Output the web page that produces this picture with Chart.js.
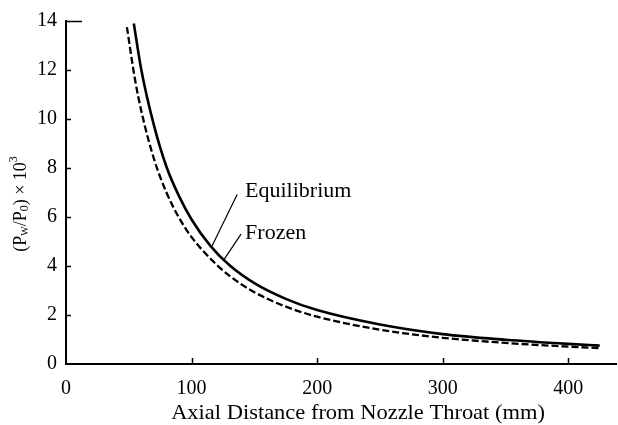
<!DOCTYPE html>
<html>
<head>
<meta charset="utf-8">
<script src="https://cdn.jsdelivr.net/npm/chart.js@4"></script>
<style>
  html, body { margin: 0; padding: 0; background: #fff; }
  #wrap { width: 618px; height: 425px; }
</style>
</head>
<body>
<div id="wrap"><canvas id="pressureChart" width="618" height="425"></canvas></div>
<script>
// values
const eqX = [54, 60, 70, 80, 90, 100, 115, 130, 150, 175, 200, 250, 300, 350, 400, 425];
const eqY = [13.9, 12.0, 9.75, 8.05, 6.85, 5.9, 4.82, 4.04, 3.3, 2.66, 2.2, 1.61, 1.22, 0.99, 0.82, 0.75];
const frX = [48.5, 55, 60, 70, 80, 90, 100, 120, 140, 160, 180, 200, 250, 300, 350, 400, 425];
const frY = [13.75, 11.6, 10.32, 8.38, 7.0, 5.97, 5.18, 4.05, 3.24, 2.67, 2.25, 1.93, 1.4, 1.07, 0.86, 0.71, 0.65];
const xTicks = [0, 100, 200, 300, 400];
const yTicks = [0, 2, 4, 6, 8, 10, 12, 14];
const xTitle = 'Axial Distance from Nozzle Throat (mm)';
const labelEq = 'Equilibrium';
const labelFr = 'Frozen';

const serif = '"Liberation Serif", "DejaVu Serif", serif';

const toPts = (xs, ys) => xs.map((x, i) => ({ x: x, y: ys[i] }));

// stretched text, the print font is wider than Times
function wideText(c, txt, x, y, size, align, sx) {
  c.save();
  c.font = size + 'px ' + serif;
  c.textAlign = align;
  c.textBaseline = 'middle';
  c.translate(x, y);
  c.scale(sx, 1);
  c.fillText(txt, 0, 0);
  c.restore();
}

// inward tick marks, titles and the two curve labels
const decor = {
  id: 'decor',
  afterDraw(chart) {
    const c = chart.ctx;
    const xs = chart.scales.x, ys = chart.scales.y;
    const left = xs.left, bottom = ys.bottom;
    c.save();
    c.strokeStyle = '#000';
    c.fillStyle = '#000';
    c.lineWidth = 1.5;
    c.beginPath();
    yTicks.forEach(v => {
      if (v === 0) return;
      const py = Math.round(ys.getPixelForValue(v)) + 0.5;
      const len = v === 14 ? 16 : 5;
      c.moveTo(left, py); c.lineTo(left + len, py);
    });
    xTicks.forEach(v => {
      if (v === 0) return;
      const px = Math.round(xs.getPixelForValue(v)) + 0.5;
      c.moveTo(px, bottom); c.lineTo(px, bottom - 6);
    });
    c.stroke();

    // x title
    wideText(c, xTitle, 358, 413, 21, 'center', 1.07);

    // y title with subscripts
    c.save();
    c.translate(21, 204);
    c.rotate(-Math.PI / 2);
    c.textBaseline = 'middle';
    c.textAlign = 'left';
    const parts = [
      ['(P', 18, 0], ['W', 10, 4], ['/P', 18, 0], ['0', 12, 4], [') \u00d7 10', 18, 0], ['3', 12, -7]
    ];
    let w = 0;
    parts.forEach(p => { c.font = p[1] + 'px ' + serif; w += c.measureText(p[0]).width; });
    let px = -w / 2;
    parts.forEach(p => {
      c.font = p[1] + 'px ' + serif;
      c.fillText(p[0], px, p[2]);
      px += c.measureText(p[0]).width;
    });
    c.restore();

    // curve labels with leader lines
    wideText(c, labelEq, xs.getPixelForValue(142.6), ys.getPixelForValue(7.04), 20, 'left', 1.1);
    wideText(c, labelFr, xs.getPixelForValue(142.6), ys.getPixelForValue(5.3), 20, 'left', 1.1);
    c.lineWidth = 1.2;
    c.beginPath();
    c.moveTo(xs.getPixelForValue(136.3), ys.getPixelForValue(6.92));
    c.lineTo(xs.getPixelForValue(116.3), ys.getPixelForValue(4.82));
    c.moveTo(xs.getPixelForValue(139.4), ys.getPixelForValue(5.3));
    c.lineTo(xs.getPixelForValue(125.1), ys.getPixelForValue(4.21));
    c.stroke();
    c.restore();
  }
};

new Chart(document.getElementById('pressureChart'), {
  type: 'line',
  data: {
    datasets: [{
      label: labelEq,
      data: toPts(eqX, eqY),
      borderColor: '#000',
      borderWidth: 2.6,
      pointRadius: 0,
      cubicInterpolationMode: 'monotone',
      fill: false
    }, {
      label: labelFr,
      data: toPts(frX, frY),
      borderColor: '#000',
      borderWidth: 2.3,
      borderDash: [7, 3],
      pointRadius: 0,
      cubicInterpolationMode: 'monotone',
      fill: false
    }]
  },
  options: {
    responsive: false,
    animation: false,
    layout: { padding: { top: 18, right: 2, left: 0, bottom: 0 } },
    plugins: { legend: { display: false }, tooltip: { enabled: false } },
    scales: {
      x: {
        type: 'linear',
        min: 0,
        max: 438,
        afterBuildTicks: s => { s.ticks = xTicks.map(v => ({ value: v })); },
        afterFit: s => { s.height = 61; },
        grid: { display: false, drawTicks: false },
        border: { display: true, color: '#000', width: 2 },
        ticks: { color: '#000', padding: 13, font: { family: serif, size: 20 } }
      },
      y: {
        min: 0,
        max: 14,
        afterBuildTicks: s => { s.ticks = yTicks.map(v => ({ value: v })); },
        afterFit: s => { s.width = 66; },
        grid: { display: false, drawTicks: false },
        border: { display: true, color: '#000', width: 2 },
        ticks: { color: '#000', padding: 9, font: { family: serif, size: 20 } }
      }
    }
  },
  plugins: [decor]
});
</script>
</body>
</html>
